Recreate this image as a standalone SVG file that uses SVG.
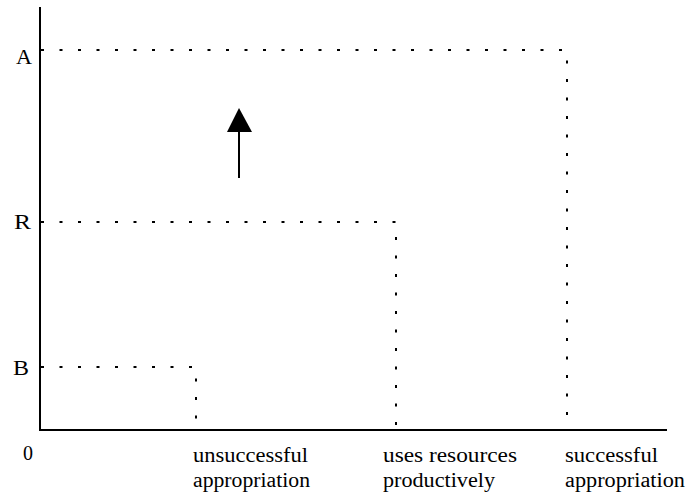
<svg xmlns="http://www.w3.org/2000/svg" width="691" height="503" viewBox="0 0 691 503">
<style>
.ax{stroke:#000;stroke-width:2;fill:none}
.dot{stroke:#000;stroke-width:2;fill:none;stroke-dasharray:3 15.5}
.t{font-family:"Liberation Serif","Times New Roman",serif;font-size:20px;fill:#000}
</style>
<rect width="691" height="503" fill="#fff"/>
<g id="axes">
<line class="ax" x1="40" y1="7" x2="40" y2="431"/>
<line class="ax" x1="39" y1="430" x2="667" y2="430"/>
</g>
<g id="connectors">
<path class="dot" d="M41 50 H567 V430"/>
<path class="dot" d="M41 222 H396 V430"/>
<path class="dot" d="M41 367 H196 V430"/>
</g>
<g id="arrow">
<line x1="239" y1="178" x2="239" y2="130" stroke="#000" stroke-width="2"/>
<polygon points="239,108 227,132 252,132" fill="#000"/>
</g>
<g id="labels">
<text class="t" x="16" y="64" textLength="16" lengthAdjust="spacingAndGlyphs">A</text>
<text class="t" x="14" y="229" textLength="17" lengthAdjust="spacingAndGlyphs">R</text>
<text class="t" x="13" y="375" textLength="16" lengthAdjust="spacingAndGlyphs">B</text>
<text class="t" x="23" y="460" textLength="10" lengthAdjust="spacingAndGlyphs">0</text>
<text class="t" x="193" y="462" textLength="115" lengthAdjust="spacingAndGlyphs">unsuccessful</text>
<text class="t" x="193" y="487" textLength="117" lengthAdjust="spacingAndGlyphs">appropriation</text>
<text class="t" x="383" y="462" textLength="134" lengthAdjust="spacingAndGlyphs">uses resources</text>
<text class="t" x="383" y="487" textLength="112" lengthAdjust="spacingAndGlyphs">productively</text>
<text class="t" x="565" y="462" textLength="93" lengthAdjust="spacingAndGlyphs">successful</text>
<text class="t" x="565" y="487" textLength="120" lengthAdjust="spacingAndGlyphs">appropriation</text>
</g>
</svg>
